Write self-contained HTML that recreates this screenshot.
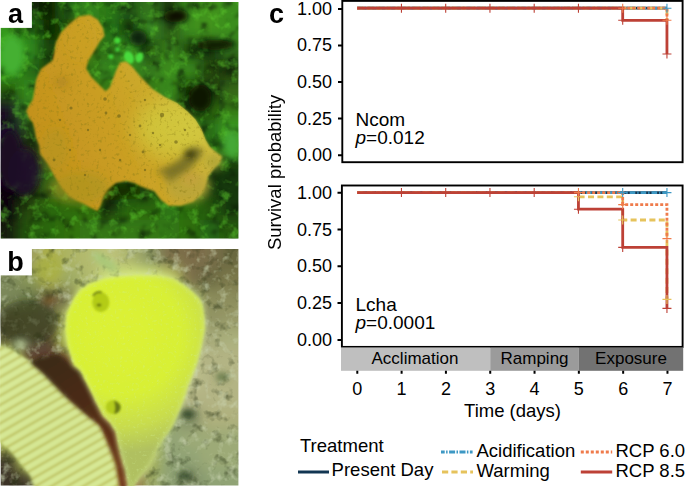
<!DOCTYPE html>
<html><head><meta charset="utf-8">
<style>
html,body{margin:0;padding:0;background:#fff;width:685px;height:487px;overflow:hidden}
svg{position:absolute;left:0;top:0;display:block}
text{font-family:"Liberation Sans",sans-serif}
</style></head><body>
<svg width="685" height="487" viewBox="0 0 685 487">
<defs>
  <clipPath id="clipA"><rect x="0.75" y="2" width="237.65" height="236.5"/></clipPath>
  <clipPath id="clipB"><rect x="0.75" y="249" width="237.65" height="236.6"/></clipPath>
  <filter id="blurGrid" x="0" y="0" width="100%" height="100%"><feGaussianBlur stdDeviation="7"/></filter>
  <filter id="blur8b" x="-50%" y="-50%" width="200%" height="200%"><feGaussianBlur stdDeviation="10"/></filter>
  <filter id="blur4" x="-30%" y="-30%" width="160%" height="160%"><feGaussianBlur stdDeviation="4"/></filter>
  <filter id="blur3" x="-50%" y="-50%" width="200%" height="200%"><feGaussianBlur stdDeviation="3"/></filter>
  <filter id="blur2" x="-10%" y="-10%" width="120%" height="120%"><feGaussianBlur stdDeviation="2"/></filter>
  <filter id="blurR" x="-10%" y="-10%" width="120%" height="120%"><feGaussianBlur stdDeviation="1.3"/></filter>
  <filter id="blur1" x="-10%" y="-10%" width="120%" height="120%"><feGaussianBlur stdDeviation="1.1"/></filter>
  <linearGradient id="spongeA" gradientUnits="userSpaceOnUse" x1="50" y1="170" x2="200" y2="115">
    <stop offset="0" stop-color="#c4921e"/>
    <stop offset="0.45" stop-color="#ca9e22"/>
    <stop offset="0.75" stop-color="#ccaa2c"/>
    <stop offset="1" stop-color="#d0ba40"/>
  </linearGradient>
  <radialGradient id="spongeB" gradientUnits="userSpaceOnUse" cx="122" cy="335" r="118">
    <stop offset="0" stop-color="#dcf234"/>
    <stop offset="0.5" stop-color="#d8f036"/>
    <stop offset="0.78" stop-color="#c8dc4e"/>
    <stop offset="1" stop-color="#b0c060"/>
  </radialGradient>
  <linearGradient id="wormGrad" gradientUnits="userSpaceOnUse" x1="0" y1="380" x2="90" y2="470">
    <stop offset="0" stop-color="#cce080"/>
    <stop offset="0.5" stop-color="#c6da76"/>
    <stop offset="1" stop-color="#cade7a"/>
  </linearGradient>
  <linearGradient id="redGrad" gradientUnits="userSpaceOnUse" x1="40" y1="355" x2="120" y2="480">
    <stop offset="0" stop-color="#3a2c16"/>
    <stop offset="0.4" stop-color="#4a2c14"/>
    <stop offset="1" stop-color="#6e3212"/>
  </linearGradient>
  <pattern id="ridges" width="300" height="8" patternUnits="userSpaceOnUse" patternTransform="rotate(-30)">
    <rect width="300" height="8" fill="#e0f0a8"/>
    <rect y="5.6" width="300" height="2.4" fill="#b8b452"/>
  </pattern>
  <filter id="noiseDarkB" x="0" y="0" width="100%" height="100%" filterUnits="objectBoundingBox" color-interpolation-filters="sRGB">
    <feTurbulence type="fractalNoise" baseFrequency="0.09" numOctaves="3" seed="11"/>
    <feColorMatrix type="matrix" values="0 0 0 0 0.16  0 0 0 0 0.2  0 0 0 0 0.08  3.2 0 0 0 -1.75"/>
  <feGaussianBlur stdDeviation="0.7"/></filter>
  <filter id="noiseLightB" x="0" y="0" width="100%" height="100%" filterUnits="objectBoundingBox" color-interpolation-filters="sRGB">
    <feTurbulence type="fractalNoise" baseFrequency="0.11" numOctaves="3" seed="4"/>
    <feColorMatrix type="matrix" values="0 0 0 0 0.8  0 0 0 0 0.84  0 0 0 0 0.7  3.0 0 0 0 -1.55"/>
  <feGaussianBlur stdDeviation="0.7"/></filter>
  <filter id="noiseGreenA" x="0" y="0" width="100%" height="100%" filterUnits="objectBoundingBox" color-interpolation-filters="sRGB">
    <feTurbulence type="fractalNoise" baseFrequency="0.1" numOctaves="3" seed="21"/>
    <feColorMatrix type="matrix" values="0 0 0 0 0.36  0 0 0 0 0.78  0 0 0 0 0.18  3.2 0 0 0 -1.65"/>
  <feGaussianBlur stdDeviation="0.6"/></filter>
  <filter id="noiseDarkA" x="0" y="0" width="100%" height="100%" filterUnits="objectBoundingBox" color-interpolation-filters="sRGB">
    <feTurbulence type="fractalNoise" baseFrequency="0.08" numOctaves="3" seed="5"/>
    <feColorMatrix type="matrix" values="0 0 0 0 0.04  0 0 0 0 0.1  0 0 0 0 0.02  3.0 0 0 0 -1.6"/>
  <feGaussianBlur stdDeviation="0.8"/></filter>
  <filter id="speckSponge" x="0" y="0" width="100%" height="100%" filterUnits="objectBoundingBox" color-interpolation-filters="sRGB">
    <feTurbulence type="fractalNoise" baseFrequency="0.35" numOctaves="2" seed="8"/>
    <feColorMatrix type="matrix" values="0 0 0 0 0.82  0 0 0 0 0.94  0 0 0 0 0.6  4 0 0 0 -2.3"/>
  </filter>
  <filter id="poreSponge" x="0" y="0" width="100%" height="100%" filterUnits="objectBoundingBox" color-interpolation-filters="sRGB">
    <feTurbulence type="fractalNoise" baseFrequency="0.3" numOctaves="2" seed="13"/>
    <feColorMatrix type="matrix" values="0 0 0 0 0.55  0 0 0 0 0.5  0 0 0 0 0.1  4 0 0 0 -2.3"/>
  </filter>
  <clipPath id="clipSpongeA"><path d="M69,24.6 L78.8,16.4 L89.9,14.8 L98,19.7 L103,28 L104.6,36 L99.5,42 L93.4,52.3 L88.3,60.5 L86.2,68.7 L91.3,77 L99.5,85.2 L105.7,91.3 L109.8,87.2 L116,70.8 L120,62.6 L126.2,61.6 L132.4,66.7 L140,76 L152.3,88.7 L164.6,97 L177,103 L187.2,111.3 L195.4,119.5 L201.6,129.8 L205.7,140 L210,147 L216,152.3 L222,156.4 L220,162.6 L214,168.7 L207.8,177 L205.7,185.2 L201.6,193.4 L193.4,201.6 L181,205.7 L168.7,205.7 L160.5,199.5 L154.4,191.3 L146,188.3 L140,186 L134.5,183 L126.2,181 L116,183 L107.8,189.3 L103.7,195.4 L100.6,205.7 L97.5,211 L90.3,207.5 L83,203.2 L76,200.3 L68.7,196 L61.5,187.4 L54.4,176 L48,164 L44,158.5 L40.2,153.9 L39.4,145.7 L36,137.5 L34.5,129 L32.8,122.7 L28.7,117.8 L26.3,111 L28.7,106 L32.8,99.7 L34.5,90 L36,80 L37.8,75.5 L41,69 L47.6,64 L52.5,60.8 L54,54 L55.8,42.7 L60.8,32.8 Z"/></clipPath>
  <clipPath id="clipSpongeB"><path d="M74,298 L80,290 L89.9,283.5 L104.6,278.6 L121,276 L137.5,275.3 L160,275.5 L173,278.6 L184.6,285 L192.8,291.7 L199.4,298.3 L202.7,304.8 L204.3,314.7 L205,329 L201.9,345.4 L197.8,361.8 L192.8,375 L188,386.5 L184.6,398 L180,410 L172,428 L162.4,441 L150,465.6 L140,478 L132,490 L128.5,490 L125.5,471.4 L122,459 L118.4,444.6 L115.7,432 L110,423 L103,416 L95,400 L88,385 L80,370 L74,365 L67.8,347.6 L65.3,330 L66.5,313 Z"/></clipPath>
</defs>

<g clip-path="url(#clipA)">
<g filter="url(#blurGrid)">
<rect x="-20.5" y="-20.5" width="21" height="21" fill="#266712"/>
<rect x="-0.5" y="-20.5" width="21" height="21" fill="#266712"/>
<rect x="19.5" y="-20.5" width="21" height="21" fill="#172f0b"/>
<rect x="39.5" y="-20.5" width="21" height="21" fill="#091903"/>
<rect x="59.5" y="-20.5" width="21" height="21" fill="#266712"/>
<rect x="79.5" y="-20.5" width="21" height="21" fill="#35871c"/>
<rect x="99.5" y="-20.5" width="21" height="21" fill="#2a7715"/>
<rect x="119.5" y="-20.5" width="21" height="21" fill="#215412"/>
<rect x="139.5" y="-20.5" width="21" height="21" fill="#35771a"/>
<rect x="159.5" y="-20.5" width="21" height="21" fill="#12270b"/>
<rect x="179.5" y="-20.5" width="21" height="21" fill="#3a8d1d"/>
<rect x="199.5" y="-20.5" width="21" height="21" fill="#42931e"/>
<rect x="219.5" y="-20.5" width="21" height="21" fill="#3a8d1d"/>
<rect x="239.5" y="-20.5" width="21" height="21" fill="#3a8d1d"/>
<rect x="-20.5" y="-0.5" width="21" height="21" fill="#266712"/>
<rect x="-0.5" y="-0.5" width="21" height="21" fill="#266712"/>
<rect x="19.5" y="-0.5" width="21" height="21" fill="#172f0b"/>
<rect x="39.5" y="-0.5" width="21" height="21" fill="#091903"/>
<rect x="59.5" y="-0.5" width="21" height="21" fill="#266712"/>
<rect x="79.5" y="-0.5" width="21" height="21" fill="#35871c"/>
<rect x="99.5" y="-0.5" width="21" height="21" fill="#2a7715"/>
<rect x="119.5" y="-0.5" width="21" height="21" fill="#215412"/>
<rect x="139.5" y="-0.5" width="21" height="21" fill="#35771a"/>
<rect x="159.5" y="-0.5" width="21" height="21" fill="#12270b"/>
<rect x="179.5" y="-0.5" width="21" height="21" fill="#3a8d1d"/>
<rect x="199.5" y="-0.5" width="21" height="21" fill="#42931e"/>
<rect x="219.5" y="-0.5" width="21" height="21" fill="#3a8d1d"/>
<rect x="239.5" y="-0.5" width="21" height="21" fill="#3a8d1d"/>
<rect x="-20.5" y="19.5" width="21" height="21" fill="#35961c"/>
<rect x="-0.5" y="19.5" width="21" height="21" fill="#35961c"/>
<rect x="19.5" y="19.5" width="21" height="21" fill="#2a7715"/>
<rect x="39.5" y="19.5" width="21" height="21" fill="#0e2705"/>
<rect x="59.5" y="19.5" width="21" height="21" fill="#1b480c"/>
<rect x="79.5" y="19.5" width="21" height="21" fill="#357717"/>
<rect x="99.5" y="19.5" width="21" height="21" fill="#267715"/>
<rect x="119.5" y="19.5" width="21" height="21" fill="#102307"/>
<rect x="139.5" y="19.5" width="21" height="21" fill="#3a8f20"/>
<rect x="159.5" y="19.5" width="21" height="21" fill="#264812"/>
<rect x="179.5" y="19.5" width="21" height="21" fill="#3e8f1e"/>
<rect x="199.5" y="19.5" width="21" height="21" fill="#42931e"/>
<rect x="219.5" y="19.5" width="21" height="21" fill="#3a8d1d"/>
<rect x="239.5" y="19.5" width="21" height="21" fill="#3a8d1d"/>
<rect x="-20.5" y="39.5" width="21" height="21" fill="#35a41d"/>
<rect x="-0.5" y="39.5" width="21" height="21" fill="#35a41d"/>
<rect x="19.5" y="39.5" width="21" height="21" fill="#338d1d"/>
<rect x="39.5" y="39.5" width="21" height="21" fill="#173809"/>
<rect x="59.5" y="39.5" width="21" height="21" fill="#357717"/>
<rect x="79.5" y="39.5" width="21" height="21" fill="#357717"/>
<rect x="99.5" y="39.5" width="21" height="21" fill="#2b6712"/>
<rect x="119.5" y="39.5" width="21" height="21" fill="#3a9c21"/>
<rect x="139.5" y="39.5" width="21" height="21" fill="#122907"/>
<rect x="159.5" y="39.5" width="21" height="21" fill="#3a851d"/>
<rect x="179.5" y="39.5" width="21" height="21" fill="#172f09"/>
<rect x="199.5" y="39.5" width="21" height="21" fill="#102907"/>
<rect x="219.5" y="39.5" width="21" height="21" fill="#35771a"/>
<rect x="239.5" y="39.5" width="21" height="21" fill="#35771a"/>
<rect x="-20.5" y="59.5" width="21" height="21" fill="#359c1d"/>
<rect x="-0.5" y="59.5" width="21" height="21" fill="#359c1d"/>
<rect x="19.5" y="59.5" width="21" height="21" fill="#266713"/>
<rect x="39.5" y="59.5" width="21" height="21" fill="#1b380b"/>
<rect x="59.5" y="59.5" width="21" height="21" fill="#357717"/>
<rect x="79.5" y="59.5" width="21" height="21" fill="#357717"/>
<rect x="99.5" y="59.5" width="21" height="21" fill="#35871a"/>
<rect x="119.5" y="59.5" width="21" height="21" fill="#35871c"/>
<rect x="139.5" y="59.5" width="21" height="21" fill="#35771a"/>
<rect x="159.5" y="59.5" width="21" height="21" fill="#3a8d1d"/>
<rect x="179.5" y="59.5" width="21" height="21" fill="#3a8d1d"/>
<rect x="199.5" y="59.5" width="21" height="21" fill="#264810"/>
<rect x="219.5" y="59.5" width="21" height="21" fill="#122507"/>
<rect x="239.5" y="59.5" width="21" height="21" fill="#122507"/>
<rect x="-20.5" y="79.5" width="21" height="21" fill="#265810"/>
<rect x="-0.5" y="79.5" width="21" height="21" fill="#265810"/>
<rect x="19.5" y="79.5" width="21" height="21" fill="#358d1c"/>
<rect x="39.5" y="79.5" width="21" height="21" fill="#357717"/>
<rect x="59.5" y="79.5" width="21" height="21" fill="#357717"/>
<rect x="79.5" y="79.5" width="21" height="21" fill="#357717"/>
<rect x="99.5" y="79.5" width="21" height="21" fill="#357717"/>
<rect x="119.5" y="79.5" width="21" height="21" fill="#357717"/>
<rect x="139.5" y="79.5" width="21" height="21" fill="#357717"/>
<rect x="159.5" y="79.5" width="21" height="21" fill="#3a8d1d"/>
<rect x="179.5" y="79.5" width="21" height="21" fill="#0c1905"/>
<rect x="199.5" y="79.5" width="21" height="21" fill="#122908"/>
<rect x="219.5" y="79.5" width="21" height="21" fill="#356716"/>
<rect x="239.5" y="79.5" width="21" height="21" fill="#356716"/>
<rect x="-20.5" y="99.5" width="21" height="21" fill="#1a0a20"/>
<rect x="-0.5" y="99.5" width="21" height="21" fill="#1a0a20"/>
<rect x="19.5" y="99.5" width="21" height="21" fill="#357d1c"/>
<rect x="39.5" y="99.5" width="21" height="21" fill="#357717"/>
<rect x="59.5" y="99.5" width="21" height="21" fill="#357717"/>
<rect x="79.5" y="99.5" width="21" height="21" fill="#357717"/>
<rect x="99.5" y="99.5" width="21" height="21" fill="#357717"/>
<rect x="119.5" y="99.5" width="21" height="21" fill="#357717"/>
<rect x="139.5" y="99.5" width="21" height="21" fill="#357717"/>
<rect x="159.5" y="99.5" width="21" height="21" fill="#357717"/>
<rect x="179.5" y="99.5" width="21" height="21" fill="#172f0b"/>
<rect x="199.5" y="99.5" width="21" height="21" fill="#265810"/>
<rect x="219.5" y="99.5" width="21" height="21" fill="#357719"/>
<rect x="239.5" y="99.5" width="21" height="21" fill="#357719"/>
<rect x="-20.5" y="119.5" width="21" height="21" fill="#1e0a2a"/>
<rect x="-0.5" y="119.5" width="21" height="21" fill="#1e0a2a"/>
<rect x="19.5" y="119.5" width="21" height="21" fill="#264812"/>
<rect x="39.5" y="119.5" width="21" height="21" fill="#357717"/>
<rect x="59.5" y="119.5" width="21" height="21" fill="#357717"/>
<rect x="79.5" y="119.5" width="21" height="21" fill="#357717"/>
<rect x="99.5" y="119.5" width="21" height="21" fill="#357717"/>
<rect x="119.5" y="119.5" width="21" height="21" fill="#357717"/>
<rect x="139.5" y="119.5" width="21" height="21" fill="#357717"/>
<rect x="159.5" y="119.5" width="21" height="21" fill="#357717"/>
<rect x="179.5" y="119.5" width="21" height="21" fill="#357717"/>
<rect x="199.5" y="119.5" width="21" height="21" fill="#266713"/>
<rect x="219.5" y="119.5" width="21" height="21" fill="#3a9c21"/>
<rect x="239.5" y="119.5" width="21" height="21" fill="#3a9c21"/>
<rect x="-20.5" y="139.5" width="21" height="21" fill="#1e0a2a"/>
<rect x="-0.5" y="139.5" width="21" height="21" fill="#1e0a2a"/>
<rect x="19.5" y="139.5" width="21" height="21" fill="#262916"/>
<rect x="39.5" y="139.5" width="21" height="21" fill="#264812"/>
<rect x="59.5" y="139.5" width="21" height="21" fill="#357717"/>
<rect x="79.5" y="139.5" width="21" height="21" fill="#357717"/>
<rect x="99.5" y="139.5" width="21" height="21" fill="#357717"/>
<rect x="119.5" y="139.5" width="21" height="21" fill="#357717"/>
<rect x="139.5" y="139.5" width="21" height="21" fill="#357717"/>
<rect x="159.5" y="139.5" width="21" height="21" fill="#357717"/>
<rect x="179.5" y="139.5" width="21" height="21" fill="#357717"/>
<rect x="199.5" y="139.5" width="21" height="21" fill="#266713"/>
<rect x="219.5" y="139.5" width="21" height="21" fill="#35871c"/>
<rect x="239.5" y="139.5" width="21" height="21" fill="#35871c"/>
<rect x="-20.5" y="159.5" width="21" height="21" fill="#200a28"/>
<rect x="-0.5" y="159.5" width="21" height="21" fill="#200a28"/>
<rect x="19.5" y="159.5" width="21" height="21" fill="#200a28"/>
<rect x="39.5" y="159.5" width="21" height="21" fill="#356712"/>
<rect x="59.5" y="159.5" width="21" height="21" fill="#357717"/>
<rect x="79.5" y="159.5" width="21" height="21" fill="#357717"/>
<rect x="99.5" y="159.5" width="21" height="21" fill="#357717"/>
<rect x="119.5" y="159.5" width="21" height="21" fill="#357717"/>
<rect x="139.5" y="159.5" width="21" height="21" fill="#357717"/>
<rect x="159.5" y="159.5" width="21" height="21" fill="#357717"/>
<rect x="179.5" y="159.5" width="21" height="21" fill="#357717"/>
<rect x="199.5" y="159.5" width="21" height="21" fill="#17380b"/>
<rect x="219.5" y="159.5" width="21" height="21" fill="#17380b"/>
<rect x="239.5" y="159.5" width="21" height="21" fill="#17380b"/>
<rect x="-20.5" y="179.5" width="21" height="21" fill="#100510"/>
<rect x="-0.5" y="179.5" width="21" height="21" fill="#100510"/>
<rect x="19.5" y="179.5" width="21" height="21" fill="#17190b"/>
<rect x="39.5" y="179.5" width="21" height="21" fill="#3a6713"/>
<rect x="59.5" y="179.5" width="21" height="21" fill="#316712"/>
<rect x="79.5" y="179.5" width="21" height="21" fill="#316712"/>
<rect x="99.5" y="179.5" width="21" height="21" fill="#0c1d05"/>
<rect x="119.5" y="179.5" width="21" height="21" fill="#0c1d05"/>
<rect x="139.5" y="179.5" width="21" height="21" fill="#1f4009"/>
<rect x="159.5" y="179.5" width="21" height="21" fill="#357717"/>
<rect x="179.5" y="179.5" width="21" height="21" fill="#357717"/>
<rect x="199.5" y="179.5" width="21" height="21" fill="#17380b"/>
<rect x="219.5" y="179.5" width="21" height="21" fill="#17380b"/>
<rect x="239.5" y="179.5" width="21" height="21" fill="#17380b"/>
<rect x="-20.5" y="199.5" width="21" height="21" fill="#100510"/>
<rect x="-0.5" y="199.5" width="21" height="21" fill="#100510"/>
<rect x="19.5" y="199.5" width="21" height="21" fill="#264810"/>
<rect x="39.5" y="199.5" width="21" height="21" fill="#2a670f"/>
<rect x="59.5" y="199.5" width="21" height="21" fill="#2f6b10"/>
<rect x="79.5" y="199.5" width="21" height="21" fill="#337110"/>
<rect x="99.5" y="199.5" width="21" height="21" fill="#122707"/>
<rect x="119.5" y="199.5" width="21" height="21" fill="#2c6b10"/>
<rect x="139.5" y="199.5" width="21" height="21" fill="#2a630f"/>
<rect x="159.5" y="199.5" width="21" height="21" fill="#2f7712"/>
<rect x="179.5" y="199.5" width="21" height="21" fill="#2a670f"/>
<rect x="199.5" y="199.5" width="21" height="21" fill="#265810"/>
<rect x="219.5" y="199.5" width="21" height="21" fill="#17380b"/>
<rect x="239.5" y="199.5" width="21" height="21" fill="#17380b"/>
<rect x="-20.5" y="219.5" width="21" height="21" fill="#171f0b"/>
<rect x="-0.5" y="219.5" width="21" height="21" fill="#171f0b"/>
<rect x="19.5" y="219.5" width="21" height="21" fill="#265810"/>
<rect x="39.5" y="219.5" width="21" height="21" fill="#2a670f"/>
<rect x="59.5" y="219.5" width="21" height="21" fill="#317110"/>
<rect x="79.5" y="219.5" width="21" height="21" fill="#357713"/>
<rect x="99.5" y="219.5" width="21" height="21" fill="#357713"/>
<rect x="119.5" y="219.5" width="21" height="21" fill="#357913"/>
<rect x="139.5" y="219.5" width="21" height="21" fill="#357913"/>
<rect x="159.5" y="219.5" width="21" height="21" fill="#317712"/>
<rect x="179.5" y="219.5" width="21" height="21" fill="#2e6d10"/>
<rect x="199.5" y="219.5" width="21" height="21" fill="#266713"/>
<rect x="219.5" y="219.5" width="21" height="21" fill="#265810"/>
<rect x="239.5" y="219.5" width="21" height="21" fill="#265810"/>
<rect x="-20.5" y="239.5" width="21" height="21" fill="#171f0b"/>
<rect x="-0.5" y="239.5" width="21" height="21" fill="#171f0b"/>
<rect x="19.5" y="239.5" width="21" height="21" fill="#265810"/>
<rect x="39.5" y="239.5" width="21" height="21" fill="#2a670f"/>
<rect x="59.5" y="239.5" width="21" height="21" fill="#317110"/>
<rect x="79.5" y="239.5" width="21" height="21" fill="#357713"/>
<rect x="99.5" y="239.5" width="21" height="21" fill="#357713"/>
<rect x="119.5" y="239.5" width="21" height="21" fill="#357913"/>
<rect x="139.5" y="239.5" width="21" height="21" fill="#357913"/>
<rect x="159.5" y="239.5" width="21" height="21" fill="#317712"/>
<rect x="179.5" y="239.5" width="21" height="21" fill="#2e6d10"/>
<rect x="199.5" y="239.5" width="21" height="21" fill="#266713"/>
<rect x="219.5" y="239.5" width="21" height="21" fill="#265810"/>
<rect x="239.5" y="239.5" width="21" height="21" fill="#265810"/>
</g>
<rect x="0" y="2" width="239" height="237" filter="url(#noiseDarkA)" opacity="0.75"/>
<rect x="0" y="2" width="239" height="237" filter="url(#noiseGreenA)" opacity="0.55"/>
<g filter="url(#blur3)">
  <ellipse cx="138" cy="38" rx="9" ry="8" fill="#0e2008"/>
  <ellipse cx="176" cy="16" rx="12" ry="7" fill="#081004"/>
  <ellipse cx="215" cy="45" rx="20" ry="5" fill="#0a1806"/>
  <ellipse cx="200" cy="98" rx="12" ry="14" fill="#081206"/>
  <ellipse cx="10" cy="160" rx="12" ry="30" fill="#1a0822"/>
  <ellipse cx="24" cy="172" rx="16" ry="24" fill="#200a28" opacity="0.85"/>
  <ellipse cx="232" cy="145" rx="8" ry="14" fill="#44a834"/>
  <ellipse cx="12" cy="55" rx="12" ry="20" fill="#44b030"/>
</g>
<g filter="url(#blur1)">
  <ellipse cx="129" cy="57.5" rx="4.5" ry="6.5" fill="#48dc3c" transform="rotate(-25 129 57.5)"/>
  <ellipse cx="139.5" cy="57.5" rx="3.8" ry="5" fill="#48dc3c" transform="rotate(20 139.5 57.5)"/>
  <circle cx="117.5" cy="40.5" r="3" fill="#44d838"/>
  <circle cx="117.5" cy="49.5" r="2.3" fill="#40c834"/>
  <circle cx="111" cy="56.5" r="2.6" fill="#40c834"/>
</g>
<path filter="url(#blur1)" fill="url(#spongeA)" d="M69,24.6 L78.8,16.4 L89.9,14.8 L98,19.7 L103,28 L104.6,36 L99.5,42 L93.4,52.3 L88.3,60.5 L86.2,68.7 L91.3,77 L99.5,85.2 L105.7,91.3 L109.8,87.2 L116,70.8 L120,62.6 L126.2,61.6 L132.4,66.7 L140,76 L152.3,88.7 L164.6,97 L177,103 L187.2,111.3 L195.4,119.5 L201.6,129.8 L205.7,140 L210,147 L216,152.3 L222,156.4 L220,162.6 L214,168.7 L207.8,177 L205.7,185.2 L201.6,193.4 L193.4,201.6 L181,205.7 L168.7,205.7 L160.5,199.5 L154.4,191.3 L146,188.3 L140,186 L134.5,183 L126.2,181 L116,183 L107.8,189.3 L103.7,195.4 L100.6,205.7 L97.5,211 L90.3,207.5 L83,203.2 L76,200.3 L68.7,196 L61.5,187.4 L54.4,176 L48,164 L44,158.5 L40.2,153.9 L39.4,145.7 L36,137.5 L34.5,129 L32.8,122.7 L28.7,117.8 L26.3,111 L28.7,106 L32.8,99.7 L34.5,90 L36,80 L37.8,75.5 L41,69 L47.6,64 L52.5,60.8 L54,54 L55.8,42.7 L60.8,32.8 Z"/>
<g clip-path="url(#clipSpongeA)"><ellipse cx="175" cy="128" rx="40" ry="30" fill="#d2cc40" opacity="0.75" filter="url(#blur8b)"/></g>
<g filter="url(#blur4)">
  <ellipse cx="80" cy="40" rx="14" ry="20" fill="#caa026" opacity="0.5"/>
  <ellipse cx="188" cy="186" rx="22" ry="16" fill="#b8a43a" opacity="0.85"/>
  <ellipse cx="190" cy="178" rx="9" ry="6" fill="#c8a040" opacity="0.8"/>
  <ellipse cx="214" cy="162" rx="8" ry="8" fill="#a8a032" opacity="0.8"/>
  <ellipse cx="62" cy="82" rx="7" ry="3" fill="#8a6a20" opacity="0.6"/>
  <ellipse cx="80" cy="188" rx="30" ry="16" fill="#a89420" opacity="0.6"/>
  <ellipse cx="55" cy="150" rx="14" ry="22" fill="#b09620" opacity="0.45"/>
</g>
<g filter="url(#blur3)">
  <path d="M155,172 Q178,164 194,146 L204,150 Q196,168 176,177 Z" fill="#6e6a24" opacity="0.85"/>
  <ellipse cx="190" cy="154" rx="6" ry="5" fill="#34340e" opacity="0.9"/>
  <ellipse cx="170" cy="178" rx="6" ry="4" fill="#7a7428" opacity="0.7"/>
</g>
<g clip-path="url(#clipSpongeA)">
  <rect x="20" y="10" width="210" height="210" filter="url(#poreSponge)" opacity="0.45"/>
</g>
<g fill="#6a6018" opacity="0.6">
  <circle cx="71" cy="108" r="1.6"/><circle cx="105" cy="99" r="1.8"/><circle cx="106" cy="113" r="1.4"/>
  <circle cx="119" cy="116" r="1.8"/><circle cx="140" cy="126" r="1.4"/><circle cx="162" cy="115" r="2.2"/>
  <circle cx="176" cy="142" r="1.8"/><circle cx="143" cy="152" r="1.4"/><circle cx="153" cy="133" r="1.2"/>
  <circle cx="130" cy="135" r="1.2"/><circle cx="88" cy="130" r="1.2"/><circle cx="100" cy="150" r="1.2"/>
  <circle cx="120" cy="160" r="1.2"/><circle cx="70" cy="150" r="1.2"/><circle cx="85" cy="175" r="1.2"/>
  <circle cx="145" cy="170" r="1.2"/><circle cx="60" cy="120" r="1.2"/><circle cx="3" cy="110" r="0"/>
  <circle cx="1" cy="129" r="0"/><circle cx="145" cy="100" r="1.2"/><circle cx="185" cy="130" r="1.2"/>
  <circle cx="54" cy="160" r="1.4"/><circle cx="160" cy="145" r="1.2"/>
</g>
</g>
<rect x="0" y="0" width="31.9" height="27.9" fill="#fff"/>
<text x="8" y="22.6" font-size="27" font-weight="bold" fill="#000">a</text>

<g clip-path="url(#clipB)">
<g filter="url(#blurGrid)">
<rect x="-20.5" y="228.5" width="21" height="21" fill="#9d9f63"/>
<rect x="-0.5" y="228.5" width="21" height="21" fill="#9d9f63"/>
<rect x="19.5" y="228.5" width="21" height="21" fill="#9d9f63"/>
<rect x="39.5" y="228.5" width="21" height="21" fill="#acb048"/>
<rect x="59.5" y="228.5" width="21" height="21" fill="#acb463"/>
<rect x="79.5" y="228.5" width="21" height="21" fill="#b5bc71"/>
<rect x="99.5" y="228.5" width="21" height="21" fill="#c0c57d"/>
<rect x="119.5" y="228.5" width="21" height="21" fill="#acb46c"/>
<rect x="139.5" y="228.5" width="21" height="21" fill="#8c9763"/>
<rect x="159.5" y="228.5" width="21" height="21" fill="#7d6f4b"/>
<rect x="179.5" y="228.5" width="21" height="21" fill="#7b6d48"/>
<rect x="199.5" y="228.5" width="21" height="21" fill="#7b6f4b"/>
<rect x="219.5" y="228.5" width="21" height="21" fill="#696740"/>
<rect x="239.5" y="228.5" width="21" height="21" fill="#696740"/>
<rect x="-20.5" y="248.5" width="21" height="21" fill="#9d9f63"/>
<rect x="-0.5" y="248.5" width="21" height="21" fill="#9d9f63"/>
<rect x="19.5" y="248.5" width="21" height="21" fill="#9d9f63"/>
<rect x="39.5" y="248.5" width="21" height="21" fill="#acb048"/>
<rect x="59.5" y="248.5" width="21" height="21" fill="#acb463"/>
<rect x="79.5" y="248.5" width="21" height="21" fill="#b5bc71"/>
<rect x="99.5" y="248.5" width="21" height="21" fill="#c0c57d"/>
<rect x="119.5" y="248.5" width="21" height="21" fill="#acb46c"/>
<rect x="139.5" y="248.5" width="21" height="21" fill="#8c9763"/>
<rect x="159.5" y="248.5" width="21" height="21" fill="#7d6f4b"/>
<rect x="179.5" y="248.5" width="21" height="21" fill="#7b6d48"/>
<rect x="199.5" y="248.5" width="21" height="21" fill="#7b6f4b"/>
<rect x="219.5" y="248.5" width="21" height="21" fill="#696740"/>
<rect x="239.5" y="248.5" width="21" height="21" fill="#696740"/>
<rect x="-20.5" y="268.5" width="21" height="21" fill="#7b885a"/>
<rect x="-0.5" y="268.5" width="21" height="21" fill="#7b885a"/>
<rect x="19.5" y="268.5" width="21" height="21" fill="#8c995a"/>
<rect x="39.5" y="268.5" width="21" height="21" fill="#acb048"/>
<rect x="59.5" y="268.5" width="21" height="21" fill="#9daa65"/>
<rect x="79.5" y="268.5" width="21" height="21" fill="#afb86c"/>
<rect x="99.5" y="268.5" width="21" height="21" fill="#cfe27d"/>
<rect x="119.5" y="268.5" width="21" height="21" fill="#d8ea7d"/>
<rect x="139.5" y="268.5" width="21" height="21" fill="#d8ea7d"/>
<rect x="159.5" y="268.5" width="21" height="21" fill="#c6d16c"/>
<rect x="179.5" y="268.5" width="21" height="21" fill="#7d6f4b"/>
<rect x="199.5" y="268.5" width="21" height="21" fill="#696740"/>
<rect x="219.5" y="268.5" width="21" height="21" fill="#7b784b"/>
<rect x="239.5" y="268.5" width="21" height="21" fill="#7b784b"/>
<rect x="-20.5" y="288.5" width="21" height="21" fill="#7b885a"/>
<rect x="-0.5" y="288.5" width="21" height="21" fill="#7b885a"/>
<rect x="19.5" y="288.5" width="21" height="21" fill="#697848"/>
<rect x="39.5" y="288.5" width="21" height="21" fill="#696748"/>
<rect x="59.5" y="288.5" width="21" height="21" fill="#7b7851"/>
<rect x="79.5" y="288.5" width="21" height="21" fill="#e0f25a"/>
<rect x="99.5" y="288.5" width="21" height="21" fill="#e9ff4d"/>
<rect x="119.5" y="288.5" width="21" height="21" fill="#e9ff4d"/>
<rect x="139.5" y="288.5" width="21" height="21" fill="#e9ff4d"/>
<rect x="159.5" y="288.5" width="21" height="21" fill="#e0f25a"/>
<rect x="179.5" y="288.5" width="21" height="21" fill="#9daa63"/>
<rect x="199.5" y="288.5" width="21" height="21" fill="#8c8d5c"/>
<rect x="219.5" y="288.5" width="21" height="21" fill="#8c8d5c"/>
<rect x="239.5" y="288.5" width="21" height="21" fill="#8c8d5c"/>
<rect x="-20.5" y="308.5" width="21" height="21" fill="#585639"/>
<rect x="-0.5" y="308.5" width="21" height="21" fill="#585639"/>
<rect x="19.5" y="308.5" width="21" height="21" fill="#5c5b3b"/>
<rect x="39.5" y="308.5" width="21" height="21" fill="#696748"/>
<rect x="59.5" y="308.5" width="21" height="21" fill="#afb85a"/>
<rect x="79.5" y="308.5" width="21" height="21" fill="#e9ff4d"/>
<rect x="99.5" y="308.5" width="21" height="21" fill="#e9ff4d"/>
<rect x="119.5" y="308.5" width="21" height="21" fill="#e9ff4d"/>
<rect x="139.5" y="308.5" width="21" height="21" fill="#e9ff4d"/>
<rect x="159.5" y="308.5" width="21" height="21" fill="#e0f25a"/>
<rect x="179.5" y="308.5" width="21" height="21" fill="#afb86c"/>
<rect x="199.5" y="308.5" width="21" height="21" fill="#909363"/>
<rect x="219.5" y="308.5" width="21" height="21" fill="#979967"/>
<rect x="239.5" y="308.5" width="21" height="21" fill="#979967"/>
<rect x="-20.5" y="328.5" width="21" height="21" fill="#585639"/>
<rect x="-0.5" y="328.5" width="21" height="21" fill="#585639"/>
<rect x="19.5" y="328.5" width="21" height="21" fill="#696748"/>
<rect x="39.5" y="328.5" width="21" height="21" fill="#584635"/>
<rect x="59.5" y="328.5" width="21" height="21" fill="#c0d15a"/>
<rect x="79.5" y="328.5" width="21" height="21" fill="#e9ff4d"/>
<rect x="99.5" y="328.5" width="21" height="21" fill="#e9ff4d"/>
<rect x="119.5" y="328.5" width="21" height="21" fill="#e9ff4d"/>
<rect x="139.5" y="328.5" width="21" height="21" fill="#e9ff4d"/>
<rect x="159.5" y="328.5" width="21" height="21" fill="#d8ea6c"/>
<rect x="179.5" y="328.5" width="21" height="21" fill="#b5b87d"/>
<rect x="199.5" y="328.5" width="21" height="21" fill="#a4a877"/>
<rect x="219.5" y="328.5" width="21" height="21" fill="#aab07d"/>
<rect x="239.5" y="328.5" width="21" height="21" fill="#aab07d"/>
<rect x="-20.5" y="348.5" width="21" height="21" fill="#b5c15a"/>
<rect x="-0.5" y="348.5" width="21" height="21" fill="#b5c15a"/>
<rect x="19.5" y="348.5" width="21" height="21" fill="#5c3b2e"/>
<rect x="39.5" y="348.5" width="21" height="21" fill="#5c3b2e"/>
<rect x="59.5" y="348.5" width="21" height="21" fill="#69402e"/>
<rect x="79.5" y="348.5" width="21" height="21" fill="#e9ff4d"/>
<rect x="99.5" y="348.5" width="21" height="21" fill="#e9ff4d"/>
<rect x="119.5" y="348.5" width="21" height="21" fill="#e9ff4d"/>
<rect x="139.5" y="348.5" width="21" height="21" fill="#e9ff4d"/>
<rect x="159.5" y="348.5" width="21" height="21" fill="#cfda7d"/>
<rect x="179.5" y="348.5" width="21" height="21" fill="#b3b484"/>
<rect x="199.5" y="348.5" width="21" height="21" fill="#b3b484"/>
<rect x="219.5" y="348.5" width="21" height="21" fill="#b3b484"/>
<rect x="239.5" y="348.5" width="21" height="21" fill="#b3b484"/>
<rect x="-20.5" y="368.5" width="21" height="21" fill="#c6d163"/>
<rect x="-0.5" y="368.5" width="21" height="21" fill="#c6d163"/>
<rect x="19.5" y="368.5" width="21" height="21" fill="#bec95e"/>
<rect x="39.5" y="368.5" width="21" height="21" fill="#5c3b2e"/>
<rect x="59.5" y="368.5" width="21" height="21" fill="#69402e"/>
<rect x="79.5" y="368.5" width="21" height="21" fill="#d8ea51"/>
<rect x="99.5" y="368.5" width="21" height="21" fill="#e9ff4d"/>
<rect x="119.5" y="368.5" width="21" height="21" fill="#e9ff4d"/>
<rect x="139.5" y="368.5" width="21" height="21" fill="#e0f25a"/>
<rect x="159.5" y="368.5" width="21" height="21" fill="#c6d17d"/>
<rect x="179.5" y="368.5" width="21" height="21" fill="#c0c18f"/>
<rect x="199.5" y="368.5" width="21" height="21" fill="#b3b484"/>
<rect x="219.5" y="368.5" width="21" height="21" fill="#b3b484"/>
<rect x="239.5" y="368.5" width="21" height="21" fill="#b3b484"/>
<rect x="-20.5" y="388.5" width="21" height="21" fill="#c6d163"/>
<rect x="-0.5" y="388.5" width="21" height="21" fill="#c6d163"/>
<rect x="19.5" y="388.5" width="21" height="21" fill="#c6d163"/>
<rect x="39.5" y="388.5" width="21" height="21" fill="#bec95e"/>
<rect x="59.5" y="388.5" width="21" height="21" fill="#69402e"/>
<rect x="79.5" y="388.5" width="21" height="21" fill="#69402e"/>
<rect x="99.5" y="388.5" width="21" height="21" fill="#e0f25a"/>
<rect x="119.5" y="388.5" width="21" height="21" fill="#e0f25a"/>
<rect x="139.5" y="388.5" width="21" height="21" fill="#cfe263"/>
<rect x="159.5" y="388.5" width="21" height="21" fill="#bec17d"/>
<rect x="179.5" y="388.5" width="21" height="21" fill="#b3b484"/>
<rect x="199.5" y="388.5" width="21" height="21" fill="#b3b484"/>
<rect x="219.5" y="388.5" width="21" height="21" fill="#b3b484"/>
<rect x="239.5" y="388.5" width="21" height="21" fill="#b3b484"/>
<rect x="-20.5" y="408.5" width="21" height="21" fill="#c6d163"/>
<rect x="-0.5" y="408.5" width="21" height="21" fill="#c6d163"/>
<rect x="19.5" y="408.5" width="21" height="21" fill="#c6d163"/>
<rect x="39.5" y="408.5" width="21" height="21" fill="#c6d163"/>
<rect x="59.5" y="408.5" width="21" height="21" fill="#c6d163"/>
<rect x="79.5" y="408.5" width="21" height="21" fill="#69402e"/>
<rect x="99.5" y="408.5" width="21" height="21" fill="#8c3b25"/>
<rect x="119.5" y="408.5" width="21" height="21" fill="#cfde5a"/>
<rect x="139.5" y="408.5" width="21" height="21" fill="#bec963"/>
<rect x="159.5" y="408.5" width="21" height="21" fill="#9daa74"/>
<rect x="179.5" y="408.5" width="21" height="21" fill="#7b8863"/>
<rect x="199.5" y="408.5" width="21" height="21" fill="#afb07d"/>
<rect x="219.5" y="408.5" width="21" height="21" fill="#afb07d"/>
<rect x="239.5" y="408.5" width="21" height="21" fill="#afb07d"/>
<rect x="-20.5" y="428.5" width="21" height="21" fill="#bec95e"/>
<rect x="-0.5" y="428.5" width="21" height="21" fill="#bec95e"/>
<rect x="19.5" y="428.5" width="21" height="21" fill="#c6d163"/>
<rect x="39.5" y="428.5" width="21" height="21" fill="#c6d163"/>
<rect x="59.5" y="428.5" width="21" height="21" fill="#c6d163"/>
<rect x="79.5" y="428.5" width="21" height="21" fill="#c6d163"/>
<rect x="99.5" y="428.5" width="21" height="21" fill="#8c3b25"/>
<rect x="119.5" y="428.5" width="21" height="21" fill="#b9c55a"/>
<rect x="139.5" y="428.5" width="21" height="21" fill="#a8b453"/>
<rect x="159.5" y="428.5" width="21" height="21" fill="#90a374"/>
<rect x="179.5" y="428.5" width="21" height="21" fill="#9daa77"/>
<rect x="199.5" y="428.5" width="21" height="21" fill="#9daa77"/>
<rect x="219.5" y="428.5" width="21" height="21" fill="#9daa77"/>
<rect x="239.5" y="428.5" width="21" height="21" fill="#9daa77"/>
<rect x="-20.5" y="448.5" width="21" height="21" fill="#47402e"/>
<rect x="-0.5" y="448.5" width="21" height="21" fill="#47402e"/>
<rect x="19.5" y="448.5" width="21" height="21" fill="#c6d163"/>
<rect x="39.5" y="448.5" width="21" height="21" fill="#c6d163"/>
<rect x="59.5" y="448.5" width="21" height="21" fill="#c6d163"/>
<rect x="79.5" y="448.5" width="21" height="21" fill="#c6d163"/>
<rect x="99.5" y="448.5" width="21" height="21" fill="#c6d163"/>
<rect x="119.5" y="448.5" width="21" height="21" fill="#8c3b25"/>
<rect x="139.5" y="448.5" width="21" height="21" fill="#a8b453"/>
<rect x="159.5" y="448.5" width="21" height="21" fill="#90a374"/>
<rect x="179.5" y="448.5" width="21" height="21" fill="#90a374"/>
<rect x="199.5" y="448.5" width="21" height="21" fill="#9daa77"/>
<rect x="219.5" y="448.5" width="21" height="21" fill="#9daa77"/>
<rect x="239.5" y="448.5" width="21" height="21" fill="#9daa77"/>
<rect x="-20.5" y="468.5" width="21" height="21" fill="#3a3325"/>
<rect x="-0.5" y="468.5" width="21" height="21" fill="#3a3325"/>
<rect x="19.5" y="468.5" width="21" height="21" fill="#47402e"/>
<rect x="39.5" y="468.5" width="21" height="21" fill="#c6d163"/>
<rect x="59.5" y="468.5" width="21" height="21" fill="#c6d163"/>
<rect x="79.5" y="468.5" width="21" height="21" fill="#c6d163"/>
<rect x="99.5" y="468.5" width="21" height="21" fill="#c6d163"/>
<rect x="119.5" y="468.5" width="21" height="21" fill="#8c3b25"/>
<rect x="139.5" y="468.5" width="21" height="21" fill="#9daa63"/>
<rect x="159.5" y="468.5" width="21" height="21" fill="#90a374"/>
<rect x="179.5" y="468.5" width="21" height="21" fill="#7b8863"/>
<rect x="199.5" y="468.5" width="21" height="21" fill="#90a374"/>
<rect x="219.5" y="468.5" width="21" height="21" fill="#90a374"/>
<rect x="239.5" y="468.5" width="21" height="21" fill="#90a374"/>
<rect x="-20.5" y="488.5" width="21" height="21" fill="#3a3325"/>
<rect x="-0.5" y="488.5" width="21" height="21" fill="#3a3325"/>
<rect x="19.5" y="488.5" width="21" height="21" fill="#47402e"/>
<rect x="39.5" y="488.5" width="21" height="21" fill="#c6d163"/>
<rect x="59.5" y="488.5" width="21" height="21" fill="#c6d163"/>
<rect x="79.5" y="488.5" width="21" height="21" fill="#c6d163"/>
<rect x="99.5" y="488.5" width="21" height="21" fill="#c6d163"/>
<rect x="119.5" y="488.5" width="21" height="21" fill="#8c3b25"/>
<rect x="139.5" y="488.5" width="21" height="21" fill="#9daa63"/>
<rect x="159.5" y="488.5" width="21" height="21" fill="#90a374"/>
<rect x="179.5" y="488.5" width="21" height="21" fill="#7b8863"/>
<rect x="199.5" y="488.5" width="21" height="21" fill="#90a374"/>
<rect x="219.5" y="488.5" width="21" height="21" fill="#90a374"/>
<rect x="239.5" y="488.5" width="21" height="21" fill="#90a374"/>
</g>
<rect x="0" y="249" width="239" height="238" filter="url(#noiseDarkB)" opacity="0.5"/>
<rect x="0" y="249" width="239" height="238" filter="url(#noiseLightB)" opacity="0.6"/>
<g filter="url(#blur3)">
  <ellipse cx="28" cy="322" rx="30" ry="22" fill="#2e3418" opacity="0.55"/>
  <ellipse cx="48" cy="268" rx="14" ry="12" fill="#a8b040" opacity="0.6"/>
  <ellipse cx="50" cy="300" rx="8" ry="4" fill="#7a4a20" opacity="0.6"/>
  <ellipse cx="20" cy="345" rx="7" ry="5" fill="#a8b888"/>
  <ellipse cx="105" cy="262" rx="16" ry="5" fill="#a8c878" transform="rotate(35 105 262)"/>
  <ellipse cx="188" cy="414" rx="8" ry="4" fill="#2a4020"/>
  <ellipse cx="185" cy="476" rx="7" ry="4" fill="#2a4020"/>
  <ellipse cx="222" cy="377" rx="6" ry="4" fill="#5a7040"/>
</g>
<path filter="url(#blur2)" fill="url(#wormGrad)" d="M-2,344 L0,346 L12,350 L30,362 L45,375 L61,392 L75,405 L88,416 L99.6,425 L105,435.7 L110.4,450 L115.7,464 L118.4,478.6 L120,490 L36,490 L31,476 L24.6,468 L18,459.5 L10,450 L0,441.5 L-2,441 Z"/>
<g filter="url(#blurR)" opacity="0.6">
  <path d="M-2,344 L0,346 L12,350 L30,362 L45,375 L61,392 L75,405 L88,416 L99.6,425 L105,435.7 L110.4,450 L115.7,464 L118.4,478.6 L120,490 L36,490 L31,476 L24.6,468 L18,459.5 L10,450 L0,441.5 L-2,441 Z" fill="url(#ridges)"/>
</g>
<path filter="url(#blur2)" fill="url(#redGrad)" d="M40,357 L58,354 L66,360 L72,366 L80,370 L88,385 L95,400 L103,416 L110,423 L115.7,432 L118.4,444.6 L122,459 L125.5,471.4 L128.5,490 L120,490 L118.4,478.6 L115.7,464 L110.4,450 L105,435.7 L99.6,425 L88,416 L75,405 L61,392 L45,375 L30,362 Z"/>
<path filter="url(#blur1)" fill="url(#spongeB)" d="M74,298 L80,290 L89.9,283.5 L104.6,278.6 L121,276 L137.5,275.3 L160,275.5 L173,278.6 L184.6,285 L192.8,291.7 L199.4,298.3 L202.7,304.8 L204.3,314.7 L205,329 L201.9,345.4 L197.8,361.8 L192.8,375 L188,386.5 L184.6,398 L180,410 L172,428 L162.4,441 L150,465.6 L140,478 L132,490 L128.5,490 L125.5,471.4 L122,459 L118.4,444.6 L115.7,432 L110,423 L103,416 L95,400 L88,385 L80,370 L74,365 L67.8,347.6 L65.3,330 L66.5,313 Z"/>
<path filter="url(#blur2)" fill="none" stroke="#d8eca0" stroke-width="4" opacity="0.45" d="M74,298 L80,290 L89.9,283.5 L104.6,278.6 L121,276 L137.5,275.3 L160,275.5 L173,278.6 L184.6,285 L192.8,291.7 L199.4,298.3 L202.7,304.8 L204.3,314.7 L205,329 L201.9,345.4 L197.8,361.8 L192.8,375 L188,386.5 L184.6,398 L180,410 L172,428 L162.4,441 L150,465.6 L140,478 L132,490 L128.5,490 L125.5,471.4 L122,459 L118.4,444.6 L115.7,432 L110,423 L103,416 L95,400 L88,385 L80,370 L74,365 L67.8,347.6 L65.3,330 L66.5,313 Z"/>
<g clip-path="url(#clipSpongeB)">
  <rect x="60" y="270" width="150" height="220" filter="url(#speckSponge)" opacity="0.3"/>
</g>
<g filter="url(#blur1)">
  <ellipse cx="100.8" cy="302.3" rx="8.6" ry="10" fill="#b4cc18"/>
  <path d="M93,296 Q96,291 102,292.5" stroke="#5e6e0c" stroke-width="1.6" fill="none"/>
  <ellipse cx="99" cy="305" rx="2.5" ry="1.5" fill="#6a7a10"/>
  <ellipse cx="113.4" cy="407.1" rx="7.7" ry="7.1" fill="#b4cc1c"/>
  <path d="M114,400.5 Q121,403 120.5,408 Q120,413 114,414 Q116,408 114,400.5 Z" fill="#6a7a12"/>
</g>
</g>
<rect x="0" y="249" width="31.9" height="26.4" fill="#fff"/>
<text x="7.2" y="271.3" font-size="27" font-weight="bold" fill="#000">b</text>

<!-- ============ PANEL C ============ -->
<text x="269" y="23" font-size="27" font-weight="bold" fill="#000">c</text>

<!-- y label -->
<text transform="translate(280.5,172.4) rotate(-90)" text-anchor="middle" font-size="18.5" fill="#000">Survival probability</text>

<!-- top panel -->
<g font-size="18" fill="#000" text-anchor="end">
  <text x="332" y="14.9">1.00</text>
  <text x="332" y="51.4">0.75</text>
  <text x="332" y="88">0.50</text>
  <text x="332" y="124.6">0.25</text>
  <text x="332" y="161.2">0.00</text>
  <text x="332" y="198.7">1.00</text>
  <text x="332" y="235.5">0.75</text>
  <text x="332" y="272.3">0.50</text>
  <text x="332" y="309.1">0.25</text>
  <text x="332" y="345.9">0.00</text>
</g>
<g stroke="#000" stroke-width="2">
  <path d="M338,8.9H342M338,45.5H342M338,82.1H342M338,118.6H342M338,155.2H342"/>
  <path d="M337.5,192.7H342M337.5,229.5H342M337.5,266.3H342M337.5,303.1H342M337.5,339.9H342"/>
</g>
<rect x="342.3" y="0.9" width="340.3" height="161.3" fill="none" stroke="#000" stroke-width="1.9"/>
<rect x="341.9" y="185.5" width="340.7" height="161.4" fill="none" stroke="#000" stroke-width="1.9"/>

<g fill="none" stroke-width="2.8">
<path d="M357.2,8.2H666.95" stroke="#123652"/>
<path d="M357.2,8.2H666.95" stroke="#3d98c4" stroke-dasharray="5.6 2 1.3 2"/>
<path d="M357.2,8.2H666.95V20.3" stroke="#e6c35c" stroke-dasharray="6 3.4"/>
<path d="M357.2,8.2H666.95V20.3" stroke="#ef7b4b" stroke-dasharray="3 2"/>
<path d="M357.2,8.2H622.7V20.3H666.95V54.0" stroke="#bd4136"/>
</g>
<g fill="none" stroke-width="1.1">
<path d="M666.95,3.7V12.7M662.45,8.2H671.45" stroke="#3d98c4"/>
<path d="M622.7,3.7V12.7M618.2,8.2H627.2M666.95,15.8V24.8M662.45,20.3H671.45" stroke="#ef7b4b"/>
<path d="M401.45,3.7V12.7M445.7,3.7V12.7M489.95,3.7V12.7M534.2,3.7V12.7M578.45,3.7V12.7M622.7,15.8V24.8M618.2,20.3H627.2M666.95,49.5V58.5M662.45,54.0H671.45" stroke="#bd4136"/>
</g>
<g fill="none" stroke-width="2.8">
<path d="M357.2,192.6H666.95" stroke="#123652"/>
<path d="M357.2,192.6H666.95" stroke="#3d98c4" stroke-dasharray="5.6 2 1.3 2"/>
<path d="M357.2,192.6H578.45V196.8H622.7V220.0H666.95V299.4" stroke="#e6c35c" stroke-dasharray="6 3.4"/>
<path d="M357.2,192.6H622.7V204.6H666.95V238.6" stroke="#ef7b4b" stroke-dasharray="3 2"/>
<path d="M357.2,192.6H578.45V209.2H622.7V247.4H666.95V308.4" stroke="#bd4136"/>
</g>
<g fill="none" stroke-width="1.1">
<path d="M622.7,188.1V197.1M618.2,192.6H627.2M666.95,188.1V197.1M662.45,192.6H671.45" stroke="#3d98c4"/>
<path d="M578.45,192.3V201.3M573.95,196.8H582.95M622.7,215.5V224.5M618.2,220.0H627.2M666.95,294.9V303.9M662.45,299.4H671.45" stroke="#e6c35c"/>
<path d="M578.45,188.1V197.1M573.95,192.6H582.95M622.7,200.1V209.1M618.2,204.6H627.2M666.95,234.1V243.1M662.45,238.6H671.45" stroke="#ef7b4b"/>
<path d="M401.45,188.1V197.1M445.7,188.1V197.1M489.95,188.1V197.1M534.2,188.1V197.1M578.45,204.7V213.7M573.95,209.2H582.95M622.7,242.9V251.9M618.2,247.4H627.2M666.95,303.9V312.9M662.45,308.4H671.45" stroke="#bd4136"/>
</g>
<text x="355.5" y="126" font-size="19" fill="#000">Ncom</text>
<text x="355.5" y="143.8" font-size="19" fill="#000"><tspan font-style="italic">p</tspan>=0.012</text>
<text x="355.5" y="310.5" font-size="19" fill="#000">Lcha</text>
<text x="355.5" y="328.5" font-size="19" fill="#000"><tspan font-style="italic">p</tspan>=0.0001</text>
<rect x="341" y="347.5" width="149.23" height="23.3" fill="#bfbfbf"/>
<rect x="490.23" y="347.5" width="88.62" height="23.3" fill="#9b9b9b"/>
<rect x="578.85" y="347.5" width="104.35" height="23.3" fill="#727272"/>
<g font-size="17" fill="#000" text-anchor="middle">
<text x="415" y="364">Acclimation</text>
<text x="534.54" y="364">Ramping</text>
<text x="631.03" y="364">Exposure</text>
</g>
<path stroke="#000" stroke-width="2" d="M357.3,370.8V373.8M401.61,370.8V373.8M445.92,370.8V373.8M490.23,370.8V373.8M534.54,370.8V373.8M578.85,370.8V373.8M623.16,370.8V373.8M667.47,370.8V373.8"/>
<g font-size="18" fill="#000" text-anchor="middle">
<text x="357.3" y="395">0</text>
<text x="401.61" y="395">1</text>
<text x="445.92" y="395">2</text>
<text x="490.23" y="395">3</text>
<text x="534.54" y="395">4</text>
<text x="578.85" y="395">5</text>
<text x="623.16" y="395">6</text>
<text x="667.47" y="395">7</text>
</g>
<text x="512.5" y="417" font-size="18.5" text-anchor="middle" fill="#000">Time (days)</text>

<!-- legend -->
<text x="300" y="452.2" font-size="18.5" fill="#000">Treatment</text>
<g stroke-width="3" fill="none">
  <path d="M298,472H329" stroke="#123652"/>
  <path d="M441,452.1H472.6" stroke="#3d98c4" stroke-dasharray="3.7 1.4 1.5 1.5 6 1.4 1.5 1.5 6 1.4 1.5 1.5 6"/>
  <path d="M442,472H473" stroke="#e6c35c" stroke-dasharray="6.2 3.2"/>
  <path d="M580.8,452.1H612.2" stroke="#ef7b4b" stroke-dasharray="3 2"/>
  <path d="M580.8,472H612.2" stroke="#bd4136"/>
</g>
<g font-size="18.5" fill="#000">
  <text x="331.6" y="475.6">Present Day</text>
  <text x="476.5" y="456.6">Acidification</text>
  <text x="476.5" y="477.1">Warming</text>
  <text x="615.5" y="456.6">RCP 6.0</text>
  <text x="615.5" y="477.3">RCP 8.5</text>
</g>
</svg>
</body></html>
